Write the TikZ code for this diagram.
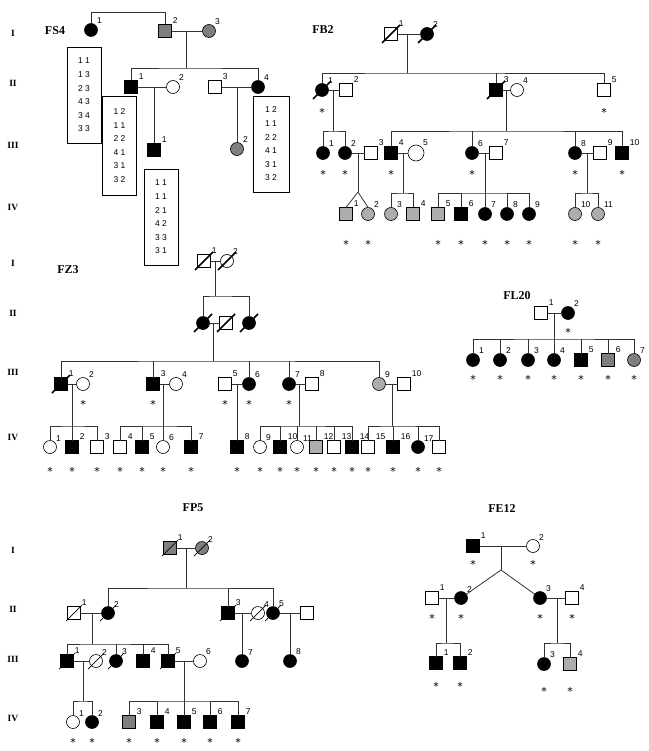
\documentclass[tikz,border=0pt]{standalone}
\usepackage{fontspec}
\setmainfont{Liberation Serif}
\newfontfamily\pedsans{Liberation Sans}
\newfontfamily\pedstar{DejaVu Sans}
\usepackage{tikz}
\definecolor{pedgrey}{HTML}{7F7F7F}
\definecolor{pedlight}{HTML}{ADADAD}
\definecolor{pedline}{HTML}{333333}

\begin{document}
\begin{tikzpicture}[x=1pt, y=-1pt,
    ind/.style={draw=black, line width=0.6pt, minimum size=13pt, inner sep=0pt, outer sep=0pt},
    male/.style={ind, rectangle},
    female/.style={ind, circle},
    aff/.style={fill=black},
    carr/.style={fill=pedgrey},
    lcarr/.style={fill=pedlight},
    link/.style={draw=pedline, line width=0.8pt},
    slash/.style={draw=black, line width=1.5pt},
    thinslash/.style={draw=black, line width=0.7pt},
    num/.style={font=\pedsans\fontsize{8.5}{9}\selectfont, inner sep=0.5pt, label distance=1pt},
    ast/.style={font=\pedstar\fontsize{11}{11}\selectfont, inner sep=0pt, label distance=#1},
    idx/.style={label={[num]45:#1}},
    tested/.style={label={[ast=#1]below:*}},
    tested/.default=12pt,
    fam/.style={font=\bfseries\fontsize{12}{14}\selectfont},
    gen/.style={font=\bfseries\fontsize{9.5}{11}\selectfont},
    hap/.style={draw=black, line width=0.6pt, minimum width=34pt, minimum height=96pt,
        align=center, inner sep=0pt, font=\pedsans\fontsize{8.5}{13.6}\selectfont}
]
    \useasboundingbox (0,0) rectangle (648,751);

    % generation labels
    \foreach \t/\y [count=\k] in {I/33, II/83, III/145, IV/207}
        \node[gen] (ga\k) at (13,\y) {\t};
    \foreach \t/\y [count=\k] in {I/263, II/313, III/372, IV/437}
        \node[gen] (gb\k) at (13,\y) {\t};
    \foreach \t/\y [count=\k] in {I/550, II/609, III/659, IV/718}
        \node[gen] (gc\k) at (13,\y) {\t};

    % ---------------- FS4 ----------------
    \node[fam] (fs4) at (55,31) {FS4};
    \node[female, aff, idx=1] (fs4i1) at (91,30) {};
    \node[male, carr, idx=2] (fs4i2) at (165,31) {};
    \node[female, carr, idx=3] (fs4i3) at (209,31) {};
    \node[male, aff, idx=1] (fs4ii1) at (131,87) {};
    \node[female, idx=2] (fs4ii2) at (173,87) {};
    \node[male, idx=3] (fs4ii3) at (215,87) {};
    \node[female, aff, idx=4] (fs4ii4) at (258,87) {};
    \node[male, aff, idx=1] (fs4iii1) at (154,150) {};
    \node[female, carr, idx=2] (fs4iii2) at (237,149) {};
    \node[hap] (fs4h1) at (84,95) {1 1\\1 3\\2 3\\4 3\\3 4\\3 3};
    \node[hap, minimum height=99pt] (fs4h2) at (119.5,145.5) {1 2\\1 1\\2 2\\4 1\\3 1\\3 2};
    \node[hap] (fs4h3) at (161,217) {1 1\\1 1\\2 1\\4 2\\3 3\\3 1};
    \node[hap, minimum width=36pt] (fs4h4) at (271,144) {1 2\\1 1\\2 2\\4 1\\3 1\\3 2};
    \coordinate (fs4m1) at (186,31);
    \coordinate (fs4s1) at (186,68);
    \coordinate (fs4m2) at (154,87);
    \coordinate (fs4m3) at (237,87);
    \draw[link] (fs4i1.north) -- ++(0,-11) -| (fs4i2.north);
    \draw[link] (fs4i2) -- (fs4i3);
    \draw[link] (fs4m1) -- (fs4s1);
    \draw[link] (fs4ii1.north) |- (fs4s1) -| (fs4ii4.north);
    \draw[link] (fs4ii1) -- (fs4ii2);
    \draw[link] (fs4ii3) -- (fs4ii4);
    \draw[link] (fs4m2) -- (fs4iii1);
    \draw[link] (fs4m3) -- (fs4iii2);

    % ---------------- FB2 ----------------
    \node[fam] (fb2) at (323,30) {FB2};
    \node[male, idx=1] (fb2i1) at (391,34) {};
    \node[female, aff, idx=2] (fb2i2) at (427,34) {};
    \node[female, aff, idx=1, tested=12pt] (fb2ii1) at (322,90) {};
    \node[male, idx=2] (fb2ii2) at (346,90) {};
    \node[male, aff, idx=3] (fb2ii3) at (496,90) {};
    \node[female, idx=4] (fb2ii4) at (517,90) {};
    \node[male, idx=5, tested=12pt] (fb2ii5) at (604,90) {};
    \node[female, aff, idx=1, tested=11pt] (fb2iii1) at (323,153) {};
    \node[female, aff, idx=2, tested=11pt] (fb2iii2) at (345,153) {};
    \node[male, idx=3] (fb2iii3) at (371,153) {};
    \node[male, aff, idx=4, tested=11pt] (fb2iii4) at (391,153) {};
    \node[female, idx=5, minimum size=16pt] (fb2iii5) at (416,153) {};
    \node[female, aff, idx=6, tested=11pt] (fb2iii6) at (472,153) {};
    \node[male, idx=7] (fb2iii7) at (496,153) {};
    \node[female, aff, idx=8, tested=11pt] (fb2iii8) at (575,153) {};
    \node[male, idx=9] (fb2iii9) at (600,153) {};
    \node[male, aff, idx=10, tested=11pt] (fb2iii10) at (622,153) {};
    \node[male, lcarr, idx=1, tested=20pt] (fb2iv1) at (346,214) {};
    \node[female, lcarr, idx=2, tested=20pt] (fb2iv2) at (368,214) {};
    \node[female, lcarr, idx=3] (fb2iv3) at (391,214) {};
    \node[male, lcarr, idx=4] (fb2iv4) at (413,214) {};
    \node[male, lcarr, idx=5, tested=20pt] (fb2iv5) at (438,214) {};
    \node[male, aff, idx=6, tested=20pt] (fb2iv6) at (461,214) {};
    \node[female, aff, idx=7, tested=20pt] (fb2iv7) at (485,214) {};
    \node[female, aff, idx=8, tested=20pt] (fb2iv8) at (507,214) {};
    \node[female, aff, idx=9, tested=20pt] (fb2iv9) at (529,214) {};
    \node[female, lcarr, idx=10, tested=20pt] (fb2iv10) at (575,214) {};
    \node[female, lcarr, idx=11, tested=20pt] (fb2iv11) at (598,214) {};
    \coordinate (fb2m1) at (407,34);
    \coordinate (fb2s1) at (407,73);
    \coordinate (fb2m2) at (333,90);
    \coordinate (fb2s2) at (333,131);
    \coordinate (fb2m3) at (506,90);
    \coordinate (fb2s3) at (506,131);
    \coordinate (fb2m4) at (358,153);
    \coordinate (fb2t4) at (358,192);
    \coordinate (fb2m5) at (403,153);
    \coordinate (fb2s5) at (403,193);
    \coordinate (fb2m6) at (485,153);
    \coordinate (fb2s6) at (485,193);
    \coordinate (fb2m7) at (587,153);
    \coordinate (fb2s7) at (587,193);
    \draw[link] (fb2i1) -- (fb2i2);
    \draw[link] (fb2m1) -- (fb2s1);
    \draw[link] (fb2ii1.north) |- (fb2s1) -| (fb2ii5.north);
    \draw[link] (fb2ii3.north) -- (fb2ii3.north |- fb2s1);
    \draw[link] (fb2ii1) -- (fb2ii2);
    \draw[link] (fb2ii3) -- (fb2ii4);
    \draw[link] (fb2m2) -- (fb2s2);
    \draw[link] (fb2iii1.north) |- (fb2s2) -| (fb2iii2.north);
    \draw[link] (fb2m3) -- (fb2s3);
    \draw[link] (fb2iii4.north) |- (fb2s3) -| (fb2iii10.north);
    \foreach \c in {fb2iii6, fb2iii8}
        \draw[link] (\c.north) -- (\c.north |- fb2s3);
    \foreach \a/\b in {fb2iii2/fb2iii3, fb2iii4/fb2iii5, fb2iii6/fb2iii7, fb2iii8/fb2iii9}
        \draw[link] (\a) -- (\b);
    % twins
    \draw[link] (fb2m4) -- (fb2t4);
    \draw[link] (fb2iv1.north) -- (fb2t4) -- (fb2iv2.north);
    \draw[link] (fb2m5) -- (fb2s5);
    \draw[link] (fb2iv3.north) |- (fb2s5) -| (fb2iv4.north);
    \draw[link] (fb2m6) -- (fb2s6);
    \draw[link] (fb2iv5.north) |- (fb2s6) -| (fb2iv9.north);
    \foreach \c in {fb2iv6, fb2iv7, fb2iv8}
        \draw[link] (\c.north) -- (\c.north |- fb2s6);
    \draw[link] (fb2m7) -- (fb2s7);
    \draw[link] (fb2iv10.north) |- (fb2s7) -| (fb2iv11.north);

    % ---------------- FZ3 ----------------
    \node[fam] (fz3) at (68,270) {FZ3};
    \node[male, idx=1] (fz3i1) at (204,261) {};
    \node[female, idx=2] (fz3i2) at (227,261) {};
    \node[female, aff] (fz3ii1) at (203,323) {};
    \node[male] (fz3ii2) at (226,323) {};
    \node[female, aff] (fz3ii3) at (249,323) {};
    \node[male, aff, idx=1] (fz3iii1) at (61,384) {};
    \node[female, idx=2, tested=10pt] (fz3iii2) at (83,384) {};
    \node[male, aff, idx=3, tested=10pt] (fz3iii3) at (153,384) {};
    \node[female, idx=4] (fz3iii4) at (176,384) {};
    \node[male, idx=5, tested=10pt] (fz3iii5) at (225,384) {};
    \node[female, aff, idx=6, tested=10pt] (fz3iii6) at (249,384) {};
    \node[female, aff, idx=7, tested=10pt] (fz3iii7) at (289,384) {};
    \node[male, idx=8] (fz3iii8) at (312,384) {};
    \node[female, lcarr, idx=9] (fz3iii9) at (379,384) {};
    \node[male, idx=10] (fz3iii10) at (404,384) {};
    \node[female, idx=1, tested=14pt] (fz3iv1) at (50,447) {};
    \node[male, aff, idx=2, tested=14pt] (fz3iv2) at (72,447) {};
    \node[male, idx=3, tested=14pt] (fz3iv3) at (97,447) {};
    \node[male, idx=4, tested=14pt] (fz3iv4) at (120,447) {};
    \node[male, aff, idx=5, tested=14pt] (fz3iv5) at (142,447) {};
    \node[female, idx=6, tested=14pt] (fz3iv6) at (163,447) {};
    \node[male, aff, idx=7, tested=14pt] (fz3iv7) at (191,447) {};
    \node[male, aff, idx=8, tested=14pt] (fz3iv8) at (237,447) {};
    \node[female, idx=9, tested=14pt] (fz3iv9) at (260,447) {};
    \node[male, aff, idx=10, tested=14pt] (fz3iv10) at (280,447) {};
    \node[female, idx=11, tested=14pt] (fz3iv11) at (297,447) {};
    \node[male, lcarr, idx=12, tested=14pt] (fz3iv12) at (316,447) {};
    \node[male, idx=13, tested=14pt] (fz3iv13) at (334,447) {};
    \node[male, aff, idx=14, tested=14pt] (fz3iv14) at (352,447) {};
    \node[male, idx=15, tested=14pt] (fz3iv15) at (368,447) {};
    \node[male, aff, idx=16, tested=14pt] (fz3iv16) at (393,447) {};
    \node[female, aff, idx=17, tested=14pt] (fz3iv17) at (418,447) {};
    \node[male, tested=14pt] (fz3iv18) at (439,447) {};
    \coordinate (fz3m1) at (215,261);
    \coordinate (fz3s1) at (215,296);
    \coordinate (fz3m2) at (213,323);
    \coordinate (fz3s2) at (213,361);
    \coordinate (fz3m3) at (72,384);
    \coordinate (fz3s3) at (72,426);
    \coordinate (fz3m4) at (163,384);
    \coordinate (fz3s4) at (163,426);
    \coordinate (fz3m5) at (237,384);
    \coordinate (fz3m6) at (299,384);
    \coordinate (fz3s6) at (299,426);
    \coordinate (fz3m7) at (392,384);
    \coordinate (fz3s7) at (392,426);
    \draw[link] (fz3i1) -- (fz3i2);
    \draw[link] (fz3m1) -- (fz3s1);
    \draw[link] (fz3ii1.north) |- (fz3s1) -| (fz3ii3.north);
    \draw[link] (fz3ii1) -- (fz3ii2);
    \draw[link] (fz3m2) -- (fz3s2);
    \draw[link] (fz3iii1.north) |- (fz3s2) -| (fz3iii9.north);
    \foreach \c in {fz3iii3, fz3iii6, fz3iii7}
        \draw[link] (\c.north) -- (\c.north |- fz3s2);
    \foreach \a/\b in {fz3iii1/fz3iii2, fz3iii3/fz3iii4, fz3iii5/fz3iii6, fz3iii7/fz3iii8, fz3iii9/fz3iii10}
        \draw[link] (\a) -- (\b);
    \draw[link] (fz3m3) -- (fz3s3);
    \draw[link] (fz3iv1.north) |- (fz3s3) -| (fz3iv3.north);
    \draw[link] (fz3iv2.north) -- (fz3iv2.north |- fz3s3);
    \draw[link] (fz3m4) -- (fz3s4);
    \draw[link] (fz3iv4.north) |- (fz3s4) -| (fz3iv7.north);
    \foreach \c in {fz3iv5, fz3iv6}
        \draw[link] (\c.north) -- (\c.north |- fz3s4);
    \draw[link] (fz3m5) -- (fz3iv8);
    \draw[link] (fz3m6) -- (fz3s6);
    \draw[link] (fz3iv9.north) |- (fz3s6) -| (fz3iv14.north);
    \foreach \c in {fz3iv10, fz3iv11, fz3iv12, fz3iv13}
        \draw[link] (\c.north) -- (\c.north |- fz3s6);
    \draw[link] (fz3m7) -- (fz3s7);
    \draw[link] (fz3iv15.north) |- (fz3s7) -| (fz3iv18.north);
    \foreach \c in {fz3iv16, fz3iv17}
        \draw[link] (\c.north) -- (\c.north |- fz3s7);

    % ---------------- FL20 ----------------
    \node[fam] (fl20) at (517,296) {FL20};
    \node[male, idx=1] (fl20i1) at (541,313) {};
    \node[female, aff, idx=2, tested=9pt] (fl20i2) at (568,313) {};
    \node[female, aff, idx=1, tested=9pt] (fl20ii1) at (473,360) {};
    \node[female, aff, idx=2, tested=9pt] (fl20ii2) at (500,360) {};
    \node[female, aff, idx=3, tested=9pt] (fl20ii3) at (528,360) {};
    \node[female, aff, idx=4, tested=9pt] (fl20ii4) at (554,360) {};
    \node[male, aff, idx=5, tested=9pt] (fl20ii5) at (581,360) {};
    \node[male, carr, idx=6, tested=9pt] (fl20ii6) at (608,360) {};
    \node[female, carr, idx=7, tested=9pt] (fl20ii7) at (634,360) {};
    \coordinate (fl20m1) at (554,313);
    \coordinate (fl20s1) at (554,339);
    \draw[link] (fl20i1) -- (fl20i2);
    \draw[link] (fl20m1) -- (fl20s1);
    \draw[link] (fl20ii1.north) |- (fl20s1) -| (fl20ii7.north);
    \foreach \c in {fl20ii2, fl20ii3, fl20ii4, fl20ii5, fl20ii6}
        \draw[link] (\c.north) -- (\c.north |- fl20s1);

    % ---------------- FP5 ----------------
    \node[fam] (fp5) at (193,508) {FP5};
    \node[male, carr, idx=1] (fp5i1) at (170,548) {};
    \node[female, carr, idx=2] (fp5i2) at (202,548) {};
    \node[male, idx=1] (fp5ii1) at (74,613) {};
    \node[female, aff, idx=2] (fp5ii2) at (108,613) {};
    \node[male, aff, idx=3] (fp5ii3) at (228,613) {};
    \node[female, idx=4] (fp5ii4) at (258,613) {};
    \node[female, aff, idx=5] (fp5ii5) at (273,613) {};
    \node[male] (fp5ii6) at (307,613) {};
    \node[male, aff, idx=1] (fp5iii1) at (67,661) {};
    \node[female, idx=2] (fp5iii2) at (96,661) {};
    \node[female, aff, idx=3] (fp5iii3) at (116,661) {};
    \node[male, aff, idx=4] (fp5iii4) at (143,661) {};
    \node[male, aff, idx=5] (fp5iii5) at (168,661) {};
    \node[female, idx=6] (fp5iii6) at (200,661) {};
    \node[female, aff, idx=7] (fp5iii7) at (242,661) {};
    \node[female, aff, idx=8] (fp5iii8) at (290,661) {};
    \node[female, idx=1, tested=10pt] (fp5iv1) at (73,722) {};
    \node[female, aff, idx=2, tested=10pt] (fp5iv2) at (92,722) {};
    \node[male, carr, idx=3, tested=10pt] (fp5iv3) at (129,722) {};
    \node[male, aff, idx=4, tested=10pt] (fp5iv4) at (157,722) {};
    \node[male, aff, idx=5, tested=10pt] (fp5iv5) at (184,722) {};
    \node[male, aff, idx=6, tested=10pt] (fp5iv6) at (210,722) {};
    \node[male, aff, idx=7, tested=10pt] (fp5iv7) at (238,722) {};
    \coordinate (fp5m1) at (186,548);
    \coordinate (fp5s1) at (186,588);
    \coordinate (fp5m2) at (92,613);
    \coordinate (fp5s2) at (92,644);
    \coordinate (fp5m3) at (242,613);
    \coordinate (fp5m4) at (290,613);
    \coordinate (fp5m5) at (83,661);
    \coordinate (fp5s5) at (83,701);
    \coordinate (fp5m6) at (184,661);
    \coordinate (fp5s6) at (184,701);
    \draw[link] (fp5i1) -- (fp5i2);
    \draw[link] (fp5m1) -- (fp5s1);
    \draw[link] (fp5ii2.north) |- (fp5s1) -| (fp5ii5.north);
    \draw[link] (fp5ii3.north) -- (fp5ii3.north |- fp5s1);
    \foreach \a/\b in {fp5ii1/fp5ii2, fp5ii3/fp5ii4, fp5ii5/fp5ii6, fp5iii1/fp5iii2, fp5iii5/fp5iii6}
        \draw[link] (\a) -- (\b);
    \draw[link] (fp5m2) -- (fp5s2);
    \draw[link] (fp5iii1.north) |- (fp5s2) -| (fp5iii5.north);
    \foreach \c in {fp5iii3, fp5iii4}
        \draw[link] (\c.north) -- (\c.north |- fp5s2);
    \draw[link] (fp5m3) -- (fp5iii7);
    \draw[link] (fp5m4) -- (fp5iii8);
    \draw[link] (fp5m5) -- (fp5s5);
    \draw[link] (fp5iv1.north) |- (fp5s5) -| (fp5iv2.north);
    \draw[link] (fp5m6) -- (fp5s6);
    \draw[link] (fp5iv3.north) |- (fp5s6) -| (fp5iv7.north);
    \foreach \c in {fp5iv4, fp5iv5, fp5iv6}
        \draw[link] (\c.north) -- (\c.north |- fp5s6);

    % ---------------- FE12 ----------------
    \node[fam] (fe12) at (502,509) {FE12};
    \node[male, aff, idx=1, tested=8pt] (fe12i1) at (473,546) {};
    \node[female, idx=2, tested=8pt] (fe12i2) at (533,546) {};
    \node[male, idx=1, tested=10pt] (fe12ii1) at (432,598) {};
    \node[female, aff, idx=2, tested=10pt] (fe12ii2) at (461,598) {};
    \node[female, aff, idx=3, tested=10pt] (fe12ii3) at (540,598) {};
    \node[male, idx=4, tested=10pt] (fe12ii4) at (572,598) {};
    \node[male, aff, idx=1, tested=13pt] (fe12iii1) at (436,663) {};
    \node[male, aff, idx=2, tested=13pt] (fe12iii2) at (460,663) {};
    \node[female, aff, idx=3, tested=17pt] (fe12iii3) at (544,664) {};
    \node[male, lcarr, idx=4, tested=17pt] (fe12iii4) at (570,664) {};
    \coordinate (fe12m1) at (501,546);
    \coordinate (fe12t1) at (501,570);
    \coordinate (fe12m2) at (446,598);
    \coordinate (fe12s2) at (446,643);
    \coordinate (fe12m3) at (557,598);
    \coordinate (fe12s3) at (557,643);
    \draw[link] (fe12i1) -- (fe12i2);
    \draw[link] (fe12m1) -- (fe12t1);
    \draw[link] (fe12ii2) -- (fe12t1) -- (fe12ii3);
    \draw[link] (fe12ii1) -- (fe12ii2);
    \draw[link] (fe12ii3) -- (fe12ii4);
    \draw[link] (fe12m2) -- (fe12s2);
    \draw[link] (fe12iii1.north) |- (fe12s2) -| (fe12iii2.north);
    \draw[link] (fe12m3) -- (fe12s3);
    \draw[link] (fe12iii3.north) |- (fe12s3) -| (fe12iii4.north);

    % deceased
    \foreach \d in {fb2i1, fb2i2, fb2ii1, fb2ii3, fz3i1, fz3i2, fz3ii1, fz3ii2, fz3ii3, fz3iii1}
        \draw[slash] ([shift={(-9,9)}]\d.center) -- ([shift={(9,-9)}]\d.center);
    \foreach \d in {fp5i1, fp5i2, fp5ii1, fp5ii2, fp5ii3, fp5ii4, fp5ii5, fp5iii1, fp5iii2, fp5iii3, fp5iii5}
        \draw[thinslash] ([shift={(-8,8)}]\d.center) -- ([shift={(8,-8)}]\d.center);
\end{tikzpicture}
\end{document}
